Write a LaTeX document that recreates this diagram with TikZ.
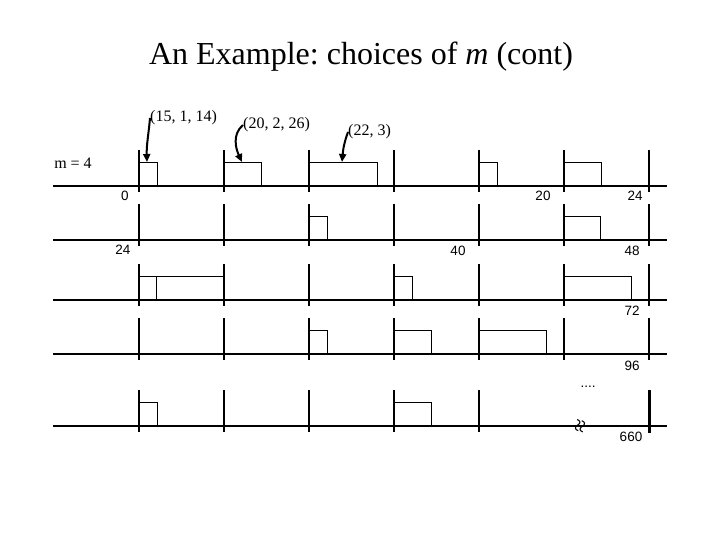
\documentclass[tikz,border=0pt]{standalone}
\usepackage{fontspec}
\setmainfont{Liberation Serif}
\newfontfamily\numfont{Liberation Sans}
\usetikzlibrary{arrows.meta}
\frenchspacing
\begin{document}
\begin{tikzpicture}[x=1pt, y=-1pt,
    every node/.style = {inner sep=0pt},
    axis/.style = {line width=1.2pt},
    slot/.style = {line width=0.8pt},
    num/.style = {font=\numfont\fontsize{13.5}{16}\selectfont},
    lab/.style = {font=\fontsize{16}{19}\selectfont, anchor=west},
    pointer/.style = {line width=2pt, -{Triangle[length=8pt, width=7pt]}}]
  \useasboundingbox (0,0) rectangle (720,540);
  \node (title) at (361, 57) {\fontsize{32}{38}\selectfont An Example: choices of \textit{m} (cont)};
  \node[lab, anchor=center] (m) at (73, 163) {m = 4};
  % base lines of the five rows
  \foreach \y in {186, 240, 300, 354, 426}
    \draw[axis] (53, \y) -- (667, \y);
  % slot edges
  \foreach \y in {186, 240, 300, 354}
    \foreach \x in {139, 224, ..., 649}
      \draw[axis] (\x, \y-36) -- (\x, \y+6);
  \foreach \x in {139, 224, ..., 479}
    \draw[axis] (\x, 390) -- (\x, 432);
  \draw[line width=3pt] (649, 390) -- (649, 433); % end bar
  % blocks: left/right/base
  \foreach \l/\r/\y in {139/157/186, 224/261/186, 309/377/186, 479/497/186, 564/601/186,
      309/327/240, 564/600/240,
      139/156/300, 156/224/300, 394/412/300, 564/631/300,
      309/327/354, 394/431/354, 479/546/354,
      139/157/426, 394/431/426}
    \draw[slot] (\l, \y) rectangle (\r, \y-24);
  % numbers under the lines
  \node[num] (n0) at (125, 196) {0};
  \node[num] (n20) at (543, 196) {20};
  \node[num] (n24a) at (635, 196) {24};
  \node[num] (n24b) at (123, 250) {24};
  \node[num] (n40) at (458, 251) {40};
  \node[num] (n48) at (632, 251) {48};
  \node[num] (n72) at (632, 311) {72};
  \node[num] (n96) at (632, 366) {96};
  \node[num] (n660) at (631, 437) {660};
  \node[num] (dots) at (588, 387) {....};
  \node[font=\fontsize{24}{26}\selectfont, rotate=75] (brk) at (582, 427) {≈};
  % tuples with their pointers
  \node[lab] (l1) at (150, 118) {(15, 1, 14)};
  \node[lab] (l2) at (243, 125) {(20, 2, 26)};
  \node[lab] (l3) at (348, 132) {(22, 3)};
  \coordinate (t1) at (147, 162);
  \coordinate (t2) at (242, 162);
  \coordinate (t3) at (342, 162);
  \draw[pointer] (l1.west) to[out=-95, in=92] (t1);
  \draw[pointer] (l2.west) to[out=220, in=115] (t2);
  \draw[pointer] (l3.west) to[out=-110, in=85] (t3);
\end{tikzpicture}
\end{document}
